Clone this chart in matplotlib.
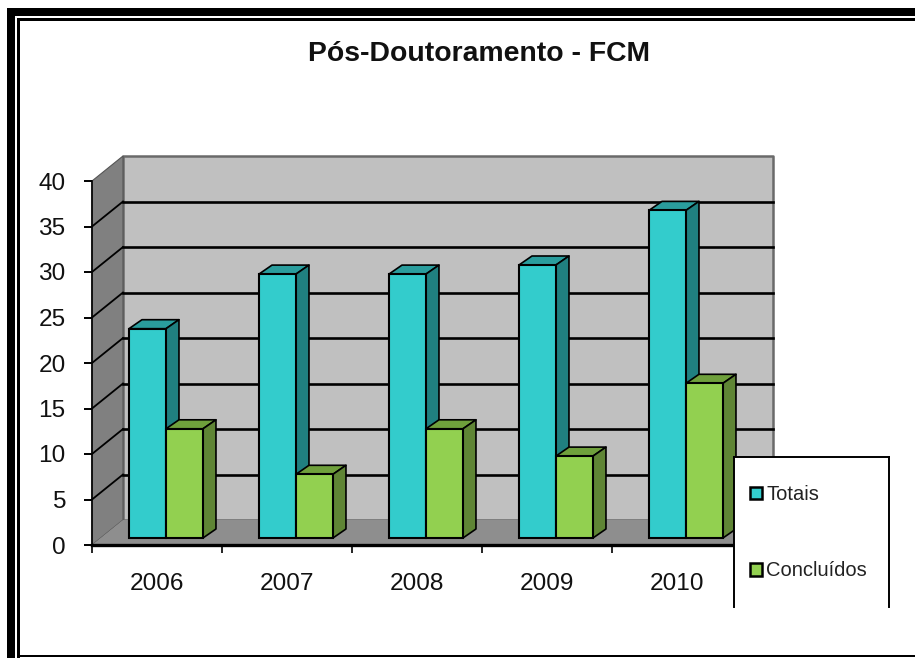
"""Pos-Doutoramento FCM: 3D-look clustered bars, drawn as oblique faces."""

import matplotlib

matplotlib.use("Agg")
import matplotlib.pyplot as plt
from matplotlib.lines import Line2D
from matplotlib.patches import Patch, Polygon, Rectangle

years = ["2006", "2007", "2008", "2009", "2010"]
totais = [23, 29, 29, 30, 36]
concluidos = [12, 7, 12, 9, 17]
y_ticks = [0, 5, 10, 15, 20, 25, 30, 35, 40]

W, H = 915, 658
plt.rcParams["font.family"] = ["Liberation Sans", "DejaVu Sans"]

fig = plt.figure(figsize=(W / 100, H / 100), dpi=100, facecolor="white")
ax = fig.add_axes([92 / W, 1 - 545 / H, 650 / W, 364 / H])
ax.set_xlim(0, 5)
ax.set_ylim(0, 40)
ax.patch.set_alpha(0)

# pixel sizes of the oblique projection, as data units
PX, PY = 1 / 130, 40 / 364
wall_dx, wall_dy = 31 * PX, 25 * PY
bar_dx, bar_dy = 13 * PX, 9 * PY
base = 7 * PY
bar_w = 37 * PX


def poly(points, color, z, edge="none", lw=0):
    ax.add_patch(Polygon(points, closed=True, facecolor=color, edgecolor=edge,
                         linewidth=lw, zorder=z, clip_on=False, joinstyle="round"))


# walls and floor
poly([(wall_dx, wall_dy), (5 + wall_dx, wall_dy), (5 + wall_dx, 40 + wall_dy), (wall_dx, 40 + wall_dy)],
     "#c0c0c0", 1, "#6a6a6a", 1.8)
poly([(0, 0), (wall_dx, wall_dy), (wall_dx, 40 + wall_dy), (0, 40)], "#808080", 1.1, "#555555", 0.8)
poly([(0, 0), (5, 0), (5 + wall_dx, wall_dy), (wall_dx, wall_dy)], "#8e8e8e", 1.2)

for v in y_ticks[1:-1]:
    ax.plot([wall_dx, 5 + wall_dx], [v + wall_dy, v + wall_dy], color="black", lw=1.9,
            zorder=1.5, clip_on=False)
    ax.plot([0, wall_dx], [v, v + wall_dy], color="black", lw=1.3, zorder=1.5, clip_on=False)

# bars, drawn left to right so nearer faces cover the sides
x_shift = 0.069
series = [
    (totais, -bar_w / 2, "#33cccc", "#2a9d9d", "#208080"),
    (concluidos, bar_w / 2, "#92d050", "#6fa03c", "#5f8535"),
]
z = 2.0
for i in range(len(years)):
    for values, off, front, top, side in series:
        xc = i + 0.5 + x_shift + off
        x0, x1 = xc - bar_w / 2, xc + bar_w / 2
        y0, y1 = base, base + values[i]
        poly([(x0, y1), (x1, y1), (x1 + bar_dx, y1 + bar_dy), (x0 + bar_dx, y1 + bar_dy)],
             top, z, "black", 1.2)
        poly([(x1, y0), (x1 + bar_dx, y0 + bar_dy), (x1 + bar_dx, y1 + bar_dy), (x1, y1)],
             side, z + 0.01, "black", 1.2)
        ax.bar(xc, values[i], bar_w, bottom=base, color=front, edgecolor="black",
               linewidth=1.5, zorder=z + 0.02, clip_on=False)
        z += 0.1

# axes
for name in ("top", "right"):
    ax.spines[name].set_visible(False)
ax.spines["left"].set_linewidth(1.2)
ax.spines["bottom"].set_linewidth(2.4)
ax.spines["bottom"].set_zorder(1.6)
ax.set_xticks(range(6))
ax.set_xticklabels([])
ax.set_xticks([i + 0.5 for i in range(5)], labels=years, minor=True)
ax.tick_params(axis="x", which="major", length=6, width=1.2)
ax.tick_params(axis="x", which="minor", length=0, pad=20, labelsize=17.6, labelcolor="#111111")
ax.set_yticks(y_ticks)
ax.tick_params(axis="y", length=6, width=1.4, pad=13, labelsize=17.6, labelcolor="#111111")

fig.text(479 / W, 1 - 54 / H, "Pós-Doutoramento - FCM", ha="center", va="center",
         fontsize=20.4, fontweight="bold", color="#111111")

# legend box: white, open at the bottom
fig.add_artist(Rectangle((734 / W, 1 - 607 / H), 155 / W, 150 / H, transform=fig.transFigure,
                         facecolor="white", edgecolor="none", zorder=6))
for xs, ys in (([734, 734], [607, 457]), ([734, 889], [457, 457]), ([889, 889], [457, 607])):
    fig.add_artist(Line2D([x / W for x in xs], [1 - y / H for y in ys], color="black", lw=1.4, zorder=7))
handles = [Patch(facecolor="#33cccc", edgecolor="black", linewidth=1.8),
           Patch(facecolor="#92d050", edgecolor="black", linewidth=1.8)]
leg = fig.legend(handles, ["Totais", "Concluídos"], loc="upper left",
                 bbox_to_anchor=(750 / W, 1 - 485 / H), frameon=False, fontsize=14.5,
                 handlelength=0.6, handleheight=0.6, handletextpad=0.2, labelspacing=2.85,
                 borderpad=0, borderaxespad=0, labelcolor="#222222")
leg.set_zorder(8)

# page frame: thick outer line, thin inner line
frame = [(7, 8, 8, 650), (7, 8, 908, 8), (17, 18, 3, 640), (17, 18, 898, 3), (17, 655, 898, 2)]
for x, y, w, h in frame:
    fig.add_artist(Rectangle((x / W, 1 - (y + h) / H), w / W, h / H, transform=fig.transFigure,
                             facecolor="black", edgecolor="none", zorder=9))

fig.savefig("out.png", dpi=100)
